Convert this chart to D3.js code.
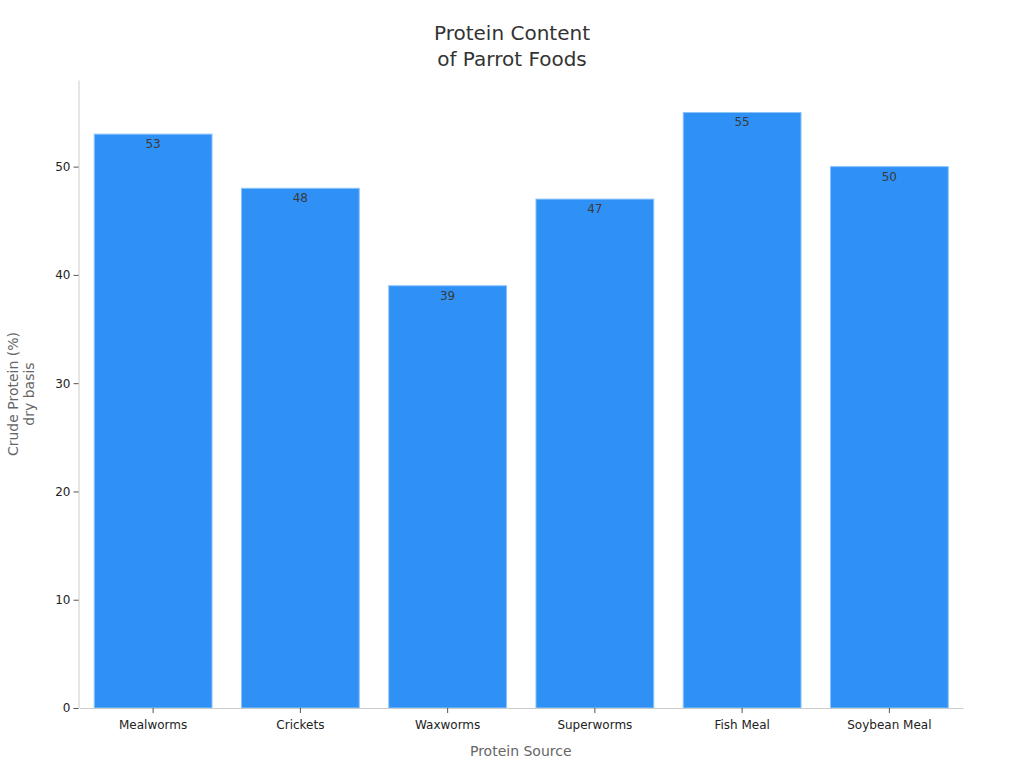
<!doctype html>
<html>
<head>
  <meta charset="utf-8">
  <style>
    body { margin: 0; background: #fff; }
    svg { font-family: "DejaVu Sans", sans-serif; }
  </style>
  <script src="https://cdn.jsdelivr.net/npm/d3@7"></script>
</head>
<body>
  <script>
  var categories = ["Mealworms", "Crickets", "Waxworms", "Superworms", "Fish Meal", "Soybean Meal"];
  var protein = [53, 48, 39, 47, 55, 50];
  var yTicks = [0, 10, 20, 30, 40, 50];

  var svgW = 1024, svgH = 768;
  var margin = {top: 80, right: 61, bottom: 60, left: 78.5};

  var svg = d3.select("body")
            .append("svg")
            .attr("width", svgW)
            .attr("height", svgH);

  var x = d3.scaleBand()
            .domain(categories)
            .range([margin.left + 1, svgW - margin.right])
            .paddingInner(0.2)
            .paddingOuter(0.1);

  var y = d3.scaleLinear()
            .domain([0, 58])
            .range([svgH - margin.bottom, margin.top]);

  // bars
  svg.selectAll("rect.bar")
      .data(protein)
      .enter()
      .append("rect")
      .attr("class", "bar")
      .attr("x", function(d, i) { return x(categories[i]); })
      .attr("y", function(d) { return y(d); })
      .attr("width", x.bandwidth())
      .attr("height", function(d) { return y(0) - y(d); })
      .attr("fill", "#2f91f6")
      .attr("stroke", "#8cc4fb")
      .attr("stroke-width", 1);

  // value labels just inside the bar top
  svg.selectAll("text.val")
      .data(protein)
      .enter()
      .append("text")
      .attr("class", "val")
      .attr("x", function(d, i) { return x(categories[i]) + x.bandwidth() / 2; })
      .attr("y", function(d) { return y(d) + 14; })
      .attr("text-anchor", "middle")
      .attr("font-size", 12)
      .attr("fill", "#3a3a3a")
      .text(function(d) { return d; });

  // axes
  var xAxis = svg.append("g")
      .attr("transform", "translate(0," + y(0) + ")")
      .call(d3.axisBottom(x).tickSize(5).tickSizeOuter(0));

  var yAxis = svg.append("g")
      .attr("transform", "translate(" + margin.left + ",0)")
      .call(d3.axisLeft(y).tickValues(yTicks).tickSize(5).tickSizeOuter(0));

  [xAxis, yAxis].forEach(function(g) {
    g.select(".domain").attr("stroke", "#cccccc");
    g.selectAll(".tick line").attr("stroke", "#555");
    g.selectAll(".tick text")
      .attr("font-family", "DejaVu Sans, sans-serif")
      .attr("font-size", 12)
      .attr("fill", "#222");
  });
  xAxis.selectAll(".tick text").attr("dy", "1.1em");

  // title
  svg.append("text")
      .attr("x", svgW / 2)
      .attr("y", 40)
      .attr("text-anchor", "middle")
      .attr("font-size", 20)
      .attr("fill", "#333")
      .text("Protein Content");
  svg.append("text")
      .attr("x", svgW / 2)
      .attr("y", 66)
      .attr("text-anchor", "middle")
      .attr("font-size", 20)
      .attr("fill", "#333")
      .text("of Parrot Foods");

  // axis titles
  svg.append("text")
      .attr("x", (margin.left + svgW - margin.right) / 2)
      .attr("y", 756)
      .attr("text-anchor", "middle")
      .attr("font-size", 14)
      .attr("fill", "#666")
      .text("Protein Source");

  var yt = svg.append("text")
      .attr("transform", "translate(18," + ((svgH - margin.bottom + margin.top) / 2) + ") rotate(-90)")
      .attr("text-anchor", "middle")
      .attr("font-size", 14)
      .attr("fill", "#666");
  yt.append("tspan").attr("x", 0).attr("dy", 0).text("Crude Protein (%)");
  yt.append("tspan").attr("x", 0).attr("dy", 16).text("dry basis");
  </script>
</body>
</html>
